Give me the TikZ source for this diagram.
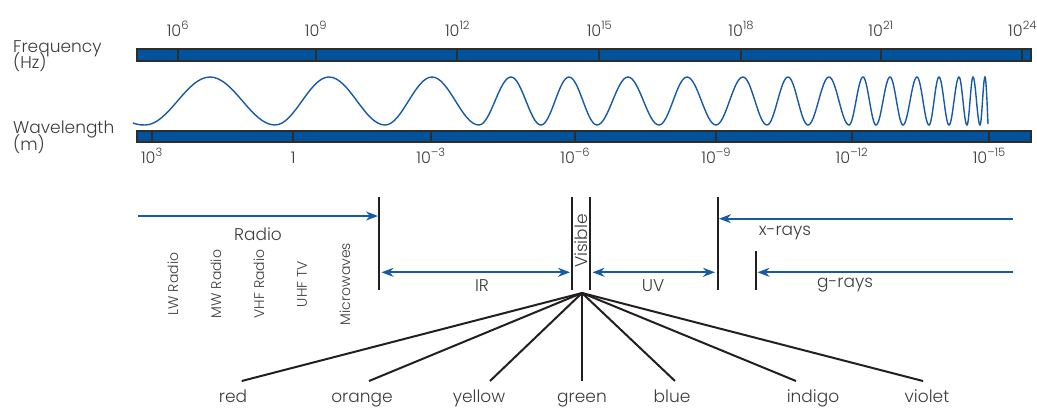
\documentclass[tikz,border=0pt]{standalone}
\usepackage{fontspec}
\IfFontExistsTF{Poppins Light}{\setmainfont{Poppins Light}}{\setmainfont{Poppins}}
\usetikzlibrary{arrows.meta}
\definecolor{barblue}{RGB}{0,82,155}
\definecolor{linblue}{RGB}{22,90,165}
\definecolor{barline}{RGB}{45,45,45}
\definecolor{txt}{RGB}{60,60,60}
\definecolor{rulec}{RGB}{35,31,32}
\newcommand{\sps}[1]{\raisebox{6.5pt}{\fontsize{11.5}{11.5}\selectfont #1}}
\begin{document}
\begin{tikzpicture}[x=1pt,y=-1pt,
  bar/.style={fill=barblue,draw=barline,line width=2.5pt},
  tickl/.style={draw=barline,line width=2pt},
  lbl/.style={text=txt,font=\fontsize{17}{20}\selectfont,inner sep=0pt},
  num/.style={text=txt,font=\fontsize{16}{18}\selectfont,inner sep=0pt,anchor=base},
  smalllbl/.style={text=txt,font=\fontsize{14}{16}\selectfont,inner sep=0pt,rotate=90},
  wall/.style={draw=rulec,line width=2pt},
  arr/.style={draw=linblue,line width=1.8pt,-{Stealth[length=12pt,width=9pt]}},
  darr/.style={draw=linblue,line width=1.8pt,{Stealth[length=12pt,width=9pt]}-{Stealth[length=12pt,width=9pt]}},
  fan/.style={draw=rulec,line width=2pt},
  wave/.style={draw=linblue,line width=1.4pt},
]
\useasboundingbox (0,0) rectangle (1037,408);

% axis labels
\node[lbl,anchor=base west] (fq) at (13,52.5) {Frequency};
\node[lbl,anchor=base west] (fqu) at (13,68.5) {(Hz)};
\node[lbl,anchor=base west] (wl) at (13,133.5) {Wavelength};
\node[lbl,anchor=base west] (wlu) at (13,150) {(m)};

% frequency bar
\draw[bar] (137,49) rectangle (1031,61);
\foreach \x in {177.7,315.7,457.3,599.3,741,880.7,1022.3}
  \draw[tickl] (\x,49) -- (\x,61);
\node[num] (f6) at (177.7,36) {10\sps{6}};
\node[num] (f9) at (315.7,36) {10\sps{9}};
\node[num] (f12) at (457.3,36) {10\sps{12}};
\node[num] (f15) at (599.3,36) {10\sps{15}};
\node[num] (f18) at (741,36) {10\sps{18}};
\node[num] (f21) at (880.7,36) {10\sps{21}};
\node[num] (f24) at (1022.3,36) {10\sps{24}};

% wavelength bar
\draw[bar] (137,131) rectangle (1031,142);
\foreach \x in {151.7,293.3,430.7,575,716,851.7,989}
  \draw[tickl] (\x,131) -- (\x,142);
\node[num] (w3) at (151.7,163) {10\sps{3}};
\node[num] (w0) at (293.3,163) {1};
\node[num] (wm3) at (430.7,163) {10\sps{–3}};
\node[num] (wm6) at (575,163) {10\sps{–6}};
\node[num] (wm9) at (716,163) {10\sps{–9}};
\node[num] (wm12) at (851.7,163) {10\sps{–12}};
\node[num] (wm15) at (989,163) {10\sps{–15}};

% wave
\draw[wave] (133,123) .. controls (139,125) and (141,125) .. (145,125)
 cos (177.5,101) sin (210,77) cos (242.5,101) sin (275,125)
 cos (302,101) sin (329,77) cos (357,101) sin (385,125)
 cos (408.5,101) sin (432,77) cos (455.5,101) sin (479,125)
 cos (495,101) sin (511,77) cos (526,101) sin (541,125)
 cos (555,101) sin (569,77) cos (583,101) sin (597,125)
 cos (612.5,101) sin (628,77) cos (643.5,101) sin (659,125)
 cos (673,101) sin (687,77) cos (701.5,101) sin (716,125)
 cos (729.5,101) sin (743,77) cos (755,101) sin (767,125)
 cos (777.5,101) sin (788,77) cos (798,101) sin (808,125)
 cos (818.5,101) sin (829,77) cos (839,101) sin (849,125)
 cos (856,101) sin (863,77) cos (869.5,101) sin (876,125)
 cos (883,101) sin (890,77) cos (896.5,101) sin (903,125)
 cos (910,101) sin (917,77) cos (923,101) sin (929,125)
 cos (934,101) sin (939,77) cos (944,101) sin (949,125)
 cos (954,101) sin (959,77) cos (963,101) sin (967,125)
 cos (970,101) sin (973,77) cos (976.5,101) sin (980,125)
 cos (982.5,101) sin (985,77) cos (987,101) -- (988,124);

% walls
\coordinate (rT) at (379,197);   \coordinate (rB) at (379,290);
\coordinate (vlT) at (572,197);  \coordinate (vlB) at (572,290);
\coordinate (vrT) at (590,197);  \coordinate (vrB) at (590,290);
\coordinate (xT) at (717.5,197); \coordinate (xB) at (717.5,290);
\coordinate (gT) at (756,251);   \coordinate (gB) at (756,290);
\foreach \a/\b in {rT/rB,vlT/vlB,vrT/vrB,xT/xB,gT/gB}
  \draw[wall] (\a) -- (\b);

% arrows
\coordinate (radioS) at (138,216);
\coordinate (xS) at (1012.7,218.7);
\coordinate (gS) at (1012.7,272.3);
\coordinate (irY) at (0,272.3);
\draw[arr,shorten >=1pt] (radioS) -- (radioS -| rT);
\draw[arr,shorten >=1.5pt] (xS) -- (xS -| xT);
\draw[arr,shorten >=1.5pt] (gS) -- (gS -| gT);
\draw[darr,shorten >=2pt,shorten <=2.5pt] (irY -| rT) -- (irY -| vlT);
\draw[darr,shorten >=2.5pt,shorten <=2.5pt] (irY -| vrT) -- (irY -| xT);

% band labels
\node[lbl,anchor=base] (radio) at (258,240) {Radio};
\node[smalllbl] (lw) at (173,284) {LW Radio};
\node[smalllbl] (mw) at (216,284) {MW Radio};
\node[smalllbl] (vhf) at (259,284) {VHF Radio};
\node[smalllbl] (uhf) at (302,284) {UHF TV};
\node[smalllbl] (mic) at (345,284) {Microwaves};
\node[lbl,rotate=90] (vis) at (581,241) {Visible};
\node[lbl,anchor=base] (ir) at (482,291.7) {IR};
\node[lbl,anchor=base] (uv) at (653,291.7) {UV};
\node[lbl,anchor=base] (xr) at (785,235) {x-rays};
\node[lbl,anchor=base] (gr) at (845,287.7) {g-rays};

% fan of colours
\coordinate (fo) at (582,293);
\node[lbl,anchor=base] (red) at (233,402.5) {red};
\node[lbl,anchor=base] (orange) at (362,402.5) {orange};
\node[lbl,anchor=base] (yellow) at (479,402.5) {yellow};
\node[lbl,anchor=base] (green) at (582,402.5) {green};
\node[lbl,anchor=base] (blue) at (672,402.5) {blue};
\node[lbl,anchor=base] (indigo) at (813,402.5) {indigo};
\node[lbl,anchor=base] (violet) at (927,402.5) {violet};
\foreach \ex in {241.7,369,490,582,675,796,923}
  \draw[fan] (fo) -- (\ex,381);
\end{tikzpicture}
\end{document}
